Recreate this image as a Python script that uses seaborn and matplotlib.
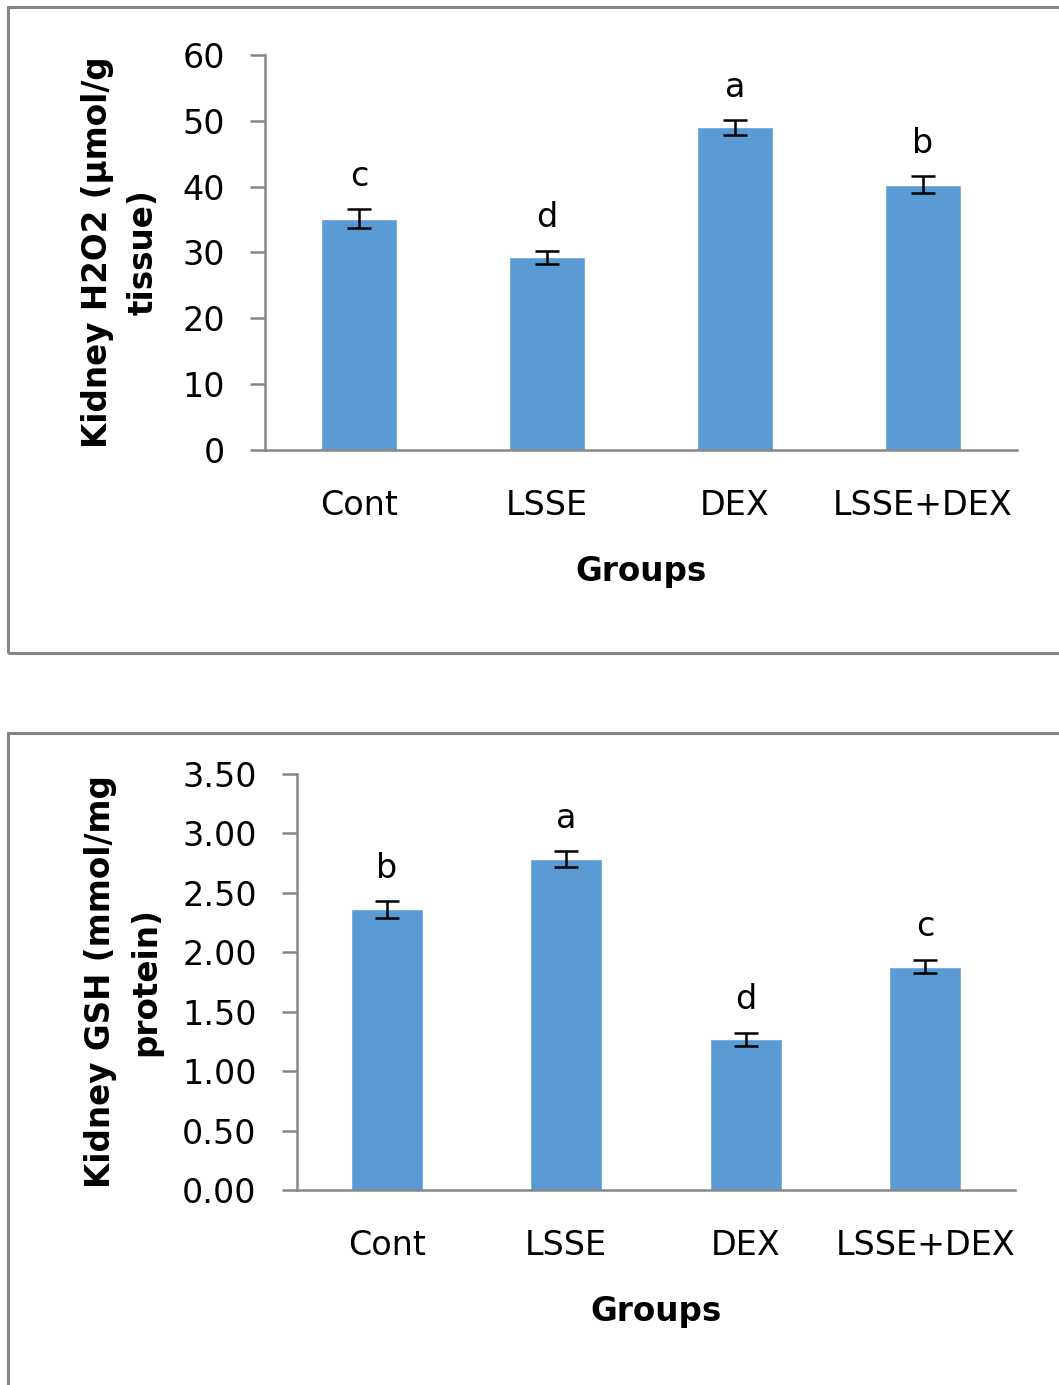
import pandas as pd
import seaborn as sns
import matplotlib.pyplot as plt
from matplotlib.patches import Rectangle

# data
groups = ["Cont", "LSSE", "DEX", "LSSE+DEX"]
h2o2_mean = [35.1, 29.3, 49.0, 40.3]
h2o2_se = [1.45, 1.0, 1.1, 1.3]
h2o2_letters = ["c", "d", "a", "b"]
gsh_mean = [2.36, 2.785, 1.27, 1.88]
gsh_se = [0.07, 0.065, 0.055, 0.055]
gsh_letters = ["b", "a", "d", "c"]
h2o2_ticks = [0, 10, 20, 30, 40, 50, 60]
gsh_ticks = [0.0, 0.5, 1.0, 1.5, 2.0, 2.5, 3.0, 3.5]

sns.set_style("white")
plt.rcParams["font.family"] = ["DejaVu Sans"]
plt.rcParams["text.color"] = "black"
plt.rcParams["xtick.labelcolor"] = "black"
plt.rcParams["ytick.labelcolor"] = "black"
plt.rcParams["axes.labelcolor"] = "black"

W, H = 1059, 1385
fig = plt.figure(figsize=(W / 100, H / 100), dpi=100)

bar_color = "#5B9BD5"
axis_gray = "#868686"
fs = 24


def px_axes(left, top, right, bottom):
    return fig.add_axes([left / W, (H - bottom) / H, (right - left) / W, (bottom - top) / H])


def draw_panel(ax, means, errs, letters, ylabel, yticks, fmt, label_x):
    df = pd.DataFrame({"Group": groups, "Value": means})
    sns.barplot(data=df, x="Group", y="Value", color=bar_color, saturation=1,
                width=0.4, errorbar=None, ax=ax)
    ax.errorbar(range(len(groups)), means, yerr=errs, fmt="none", ecolor="black",
                elinewidth=1.8, capsize=8.5, capthick=1.8, zorder=3)
    for i, (m, e, t) in enumerate(zip(means, errs, letters)):
        ax.annotate(t, (i, m + e), xytext=(0, 17), textcoords="offset points",
                    ha="center", va="baseline", fontsize=fs)
    ax.set_ylim(yticks[0], yticks[-1])
    ax.set_xlim(-0.5, len(groups) - 0.5)
    ax.set_yticks(yticks)
    ax.set_yticklabels([fmt.format(v) for v in yticks])
    ax.set_xticks([i - 0.5 for i in range(len(groups) + 1)], minor=True)
    ax.tick_params(axis="x", which="major", length=0, pad=28, labelsize=fs)
    ax.tick_params(axis="x", which="minor", length=11, width=1.8, color=axis_gray, direction="out")
    ax.tick_params(axis="y", length=11, width=1.8, color=axis_gray, pad=18, labelsize=fs,
                   left=True, direction="out")
    for s in ["top", "right"]:
        ax.spines[s].set_visible(False)
    for s in ["left", "bottom"]:
        ax.spines[s].set_color(axis_gray)
        ax.spines[s].set_linewidth(1.8)
    ax.set_xlabel("Groups", fontsize=23.5, fontweight="bold", labelpad=24)
    ax.set_ylabel(ylabel, fontsize=23.5, fontweight="bold", linespacing=1.5,
                  multialignment="center")
    ax.yaxis.set_label_coords(label_x, 0.5)


ax1 = px_axes(265, 55, 1017, 450)
draw_panel(ax1, h2o2_mean, h2o2_se, h2o2_letters, "Kidney H2O2 (µmol/g\ntissue)",
           h2o2_ticks, "{:.0f}", -0.14)

ax2 = px_axes(297, 774, 1015, 1190)
draw_panel(ax2, gsh_mean, gsh_se, gsh_letters, "Kidney GSH (mmol/mg\nprotein)",
           gsh_ticks, "{:.2f}", -0.187)

# outer chart-area frames
fig.add_artist(Rectangle((8 / W, (H - 653) / H), 1.2, 646 / H, transform=fig.transFigure,
                         fill=False, edgecolor=axis_gray, linewidth=2.2))
fig.add_artist(Rectangle((8 / W, -0.2), 1.2, (H - 733) / H + 0.2, transform=fig.transFigure,
                         fill=False, edgecolor=axis_gray, linewidth=2.2))

fig.savefig("out.png", dpi=100)
